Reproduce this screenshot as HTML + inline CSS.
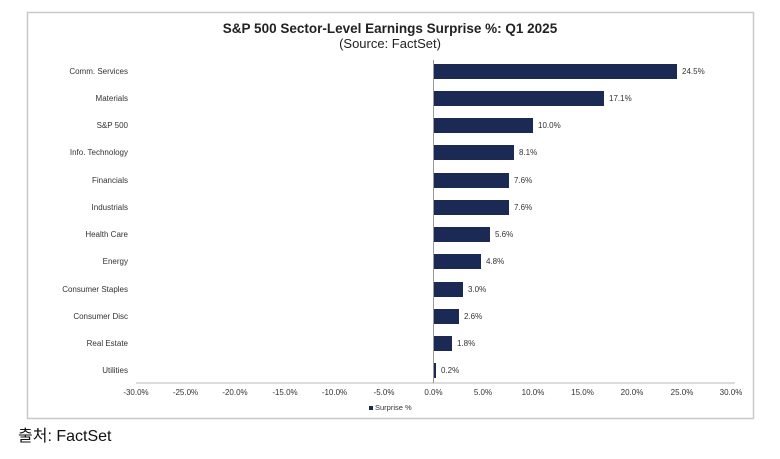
<!DOCTYPE html>
<html><head><meta charset="utf-8"><style>
html,body{margin:0;padding:0;background:#fff;}
body{width:780px;height:459px;overflow:hidden;position:relative;font-family:"Liberation Sans",sans-serif;}
</style></head><body>
<svg width="780" height="459" viewBox="0 0 780 459" xmlns="http://www.w3.org/2000/svg" style="position:absolute;left:0;top:0">
<rect x="27.5" y="12.5" width="726" height="406" fill="#fff" stroke="#c8c8c8" stroke-width="1.5"/>
<text x="390" y="33" text-anchor="middle" font-family="Liberation Sans" font-weight="bold" font-size="13.5" fill="#222">S&amp;P 500 Sector-Level Earnings Surprise %: Q1 2025</text>
<text x="390" y="48" text-anchor="middle" font-family="Liberation Sans" font-size="13" fill="#222">(Source: FactSet)</text>
<line x1="136" y1="383" x2="735" y2="383" stroke="#c8c8c8" stroke-width="1.2"/>
<line x1="433.5" y1="60" x2="433.5" y2="383" stroke="#999" stroke-width="1"/>
<g font-family="Liberation Sans" font-size="8" fill="#333">
<g text-anchor="end">
<text x="128" y="74">Comm. Services</text>
<text x="128" y="101">Materials</text>
<text x="128" y="128">S&amp;P 500</text>
<text x="128" y="155">Info. Technology</text>
<text x="128" y="183">Financials</text>
<text x="128" y="210">Industrials</text>
<text x="128" y="237">Health Care</text>
<text x="128" y="264">Energy</text>
<text x="128" y="292">Consumer Staples</text>
<text x="128" y="319">Consumer Disc</text>
<text x="128" y="346">Real Estate</text>
<text x="128" y="373">Utilities</text>
</g>
<g fill="#1b2a55">
<rect x="434" y="64" width="243" height="15"/>
<rect x="434" y="91" width="170" height="15"/>
<rect x="434" y="118" width="99" height="15"/>
<rect x="434" y="145" width="80" height="15"/>
<rect x="434" y="173" width="75" height="15"/>
<rect x="434" y="200" width="75" height="15"/>
<rect x="434" y="227" width="56" height="15"/>
<rect x="434" y="254" width="47" height="15"/>
<rect x="434" y="282" width="29" height="15"/>
<rect x="434" y="309" width="25" height="15"/>
<rect x="434" y="336" width="18" height="15"/>
<rect x="434" y="363" width="2" height="15"/>
</g>
<text x="682" y="74">24.5%</text>
<text x="609" y="101">17.1%</text>
<text x="538" y="128">10.0%</text>
<text x="519" y="155">8.1%</text>
<text x="514" y="183">7.6%</text>
<text x="514" y="210">7.6%</text>
<text x="495" y="237">5.6%</text>
<text x="486" y="264">4.8%</text>
<text x="468" y="292">3.0%</text>
<text x="464" y="319">2.6%</text>
<text x="457" y="346">1.8%</text>
<text x="441" y="373">0.2%</text>
<g text-anchor="middle">
<text x="136" y="395">-30.0%</text>
<text x="185.5" y="395">-25.0%</text>
<text x="235" y="395">-20.0%</text>
<text x="285" y="395">-15.0%</text>
<text x="334.5" y="395">-10.0%</text>
<text x="384" y="395">-5.0%</text>
<text x="433.5" y="395">0.0%</text>
<text x="483" y="395">5.0%</text>
<text x="533" y="395">10.0%</text>
<text x="582.5" y="395">15.0%</text>
<text x="632" y="395">20.0%</text>
<text x="682" y="395">25.0%</text>
<text x="731" y="395">30.0%</text>
</g>
<rect x="369" y="406" width="4" height="4" fill="#1b2a55"/>
<text x="375" y="410" font-size="7.5">Surprise %</text>
</g>
<text x="18" y="441" font-family="Liberation Sans, 'Noto Sans CJK KR', sans-serif" font-size="16" fill="#111">출처: FactSet</text>
</svg>
</body></html>
